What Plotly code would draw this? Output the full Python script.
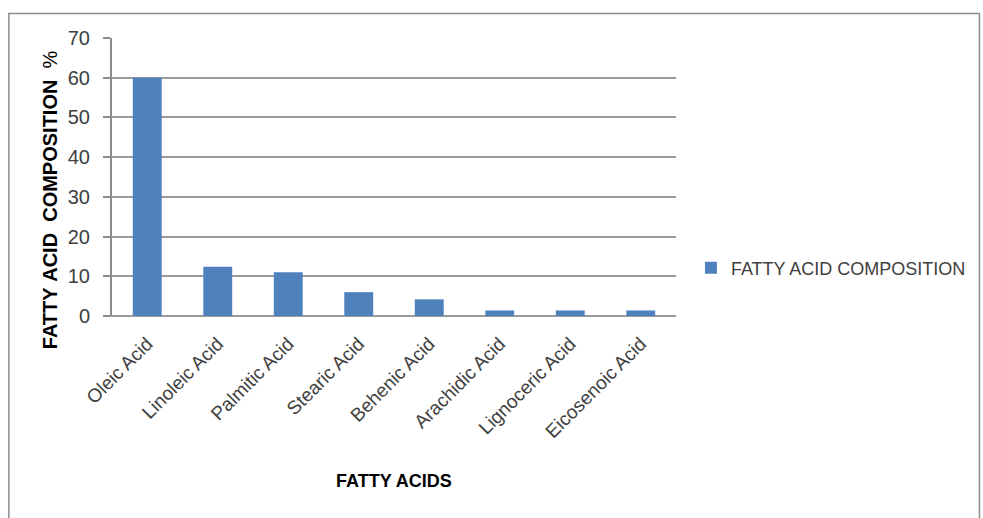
import plotly.graph_objects as go

categories = ["Oleic Acid", "Linoleic Acid", "Palmitic Acid", "Stearic Acid",
              "Behenic Acid", "Arachidic Acid", "Lignoceric Acid", "Eicosenoic Acid"]
values = [60, 12.4, 11, 6, 4.2, 1.4, 1.4, 1.4]
series_name = "FATTY ACID COMPOSITION"

W, H = 983, 518
L, R, T, B = 112, 983 - 678, 38, 518 - 316
pw, ph = W - L - R, H - T - B

def px(x):
    return (x - L) / pw

def py(y):
    return (H - B - y) / ph

FONT = "Liberation Sans, Arial, sans-serif"

fig = go.Figure()
fig.add_trace(go.Bar(
    x=categories, y=values, name=series_name,
    marker=dict(color="#4F81BD", line=dict(width=0)),
    showlegend=True,
))

fig.update_layout(
    width=W, height=H,
    margin=dict(l=L, r=R, t=T, b=B, pad=0),
    paper_bgcolor="white", plot_bgcolor="white",
    bargap=0.59,
    font=dict(family=FONT, size=18, color="#404040"),
    showlegend=True,
    legend=dict(x=px(693), y=py(268), xanchor="left", yanchor="middle",
                font=dict(family=FONT, size=18, color="#404040"),
                bgcolor="rgba(0,0,0,0)"),
    xaxis=dict(
        tickangle=-45, showgrid=False, showline=False, ticks="",
        tickfont=dict(family=FONT, size=19, color="#404040"),
        ticklabelstandoff=12,
        zeroline=False,
    ),
    yaxis=dict(
        range=[0, 70], dtick=10, showgrid=True, gridcolor="#9a9a9a", gridwidth=1.5,
        showline=True, linecolor="#8c8c8c", linewidth=2,
        ticks="outside", ticklen=7, tickcolor="#8c8c8c", tickwidth=1.5,
        tickfont=dict(family=FONT, size=20, color="#404040"),
        ticklabelstandoff=9,
        zeroline=True, zerolinecolor="#9a9a9a", zerolinewidth=2,
    ),
    shapes=[
        dict(type="rect", xref="paper", yref="paper",
             x0=px(8.5), x1=px(982.5), y0=py(560), y1=py(13.5),
             line=dict(color="#8c8c8c", width=1.5), fillcolor="rgba(0,0,0,0)", layer="below"),
        dict(type="line", xref="paper", yref="paper",
             x0=px(105), x1=px(112), y0=0, y1=0,
             line=dict(color="#8c8c8c", width=1.5)),
    ],
    annotations=[
        dict(text="<b>FATTY\u00a0ACID\u00a0\u00a0COMPOSITION</b>\u00a0\u00a0%", xref="paper", yref="paper",
             x=px(50), y=py(200), textangle=-90, showarrow=False,
             xanchor="center", yanchor="middle",
             font=dict(family=FONT, size=20, color="#000000")),
        dict(text="<b>FATTY ACIDS</b>", xref="paper", yref="paper",
             x=px(395), y=py(481), showarrow=False,
             xanchor="center", yanchor="middle",
             font=dict(family=FONT, size=18, color="#000000")),
    ],
)

fig.write_html("out.html")
